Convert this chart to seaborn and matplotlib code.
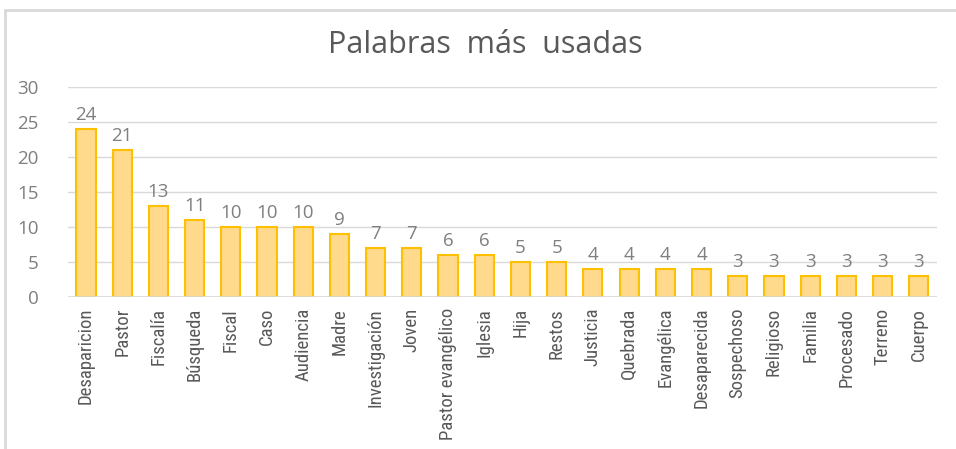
import matplotlib
matplotlib.use("Agg")
import matplotlib.pyplot as plt
import seaborn as sns
import pandas as pd
from matplotlib import font_manager

palabras = ["Desaparicion", "Pastor", "Fiscalía", "Búsqueda", "Fiscal", "Caso",
            "Audiencia", "Madre", "Investigación", "Joven", "Pastor evangélico",
            "Iglesia", "Hija", "Restos", "Justicia", "Quebrada", "Evangélica",
            "Desaparecida", "Sospechoso", "Religioso", "Familia", "Procesado",
            "Terreno", "Cuerpo"]
frecuencias = [24, 21, 13, 11, 10, 10, 10, 9, 7, 7, 6, 6, 5, 5, 4, 4, 4, 4,
               3, 3, 3, 3, 3, 3]
titulo = "Palabras  más  usadas"

df = pd.DataFrame({"palabra": palabras, "frecuencia": frecuencias})

nombres = set(f.name for f in font_manager.fontManager.ttflist)
estrecha = None
for n in ["Liberation Sans Narrow", "DejaVu Sans Condensed", "Roboto Condensed"]:
    if n in nombres:
        estrecha = n
        break

sns.set_style("white")
plt.rcParams['font.family'] = ['Open Sans', 'DejaVu Sans']
gris = "#7f7f7f"

fig = plt.figure(figsize=(9.56, 4.49), dpi=100)
ax = fig.add_axes([0.071, 0.339, 0.909, 0.467])

sns.barplot(data=df, x="palabra", y="frecuencia", color="#ffd98c",
            edgecolor="#ffc000", linewidth=1.5, width=0.53, saturation=1, ax=ax)

for i, v in enumerate(frecuencias):
    ax.text(i, v + 0.7, str(v), ha="center", va="bottom", fontsize=13.5,
            color=gris)

ax.set_ylim(0, 30)
ax.set_xlim(-0.5, len(palabras) - 0.5)
ax.set_yticks(range(0, 31, 5))
ax.yaxis.grid(True, color="#d9d9d9", linewidth=1)
ax.set_axisbelow(True)
for s in ax.spines.values():
    s.set_visible(False)
ax.axhline(0, color="#d9d9d9", linewidth=1.2)
ax.set_xlabel("")
ax.set_ylabel("")
ax.tick_params(axis="y", labelsize=13.5, labelcolor=gris, length=0, pad=21)
ax.tick_params(axis="x", length=0, pad=8)
for t in ax.get_xticklabels():
    t.set_rotation(90)
    t.set_color("#595959")
    if estrecha:
        t.set_family([estrecha, 'DejaVu Sans'])
        t.set_fontsize(13.5)
    else:
        t.set_fontsize(11)

fig.text(0.508, 0.9, titulo, ha="center", va="center", fontsize=22,
         color="#595959")

# marco del grafico
fig.add_artist(plt.Line2D([0.005, 1.0], [0.977, 0.977], color="#d9d9d9",
                          linewidth=2, transform=fig.transFigure))
fig.add_artist(plt.Line2D([0.005, 0.005], [0.0, 0.977], color="#d9d9d9",
                          linewidth=2, transform=fig.transFigure))

fig.savefig("out.png", dpi=100)
